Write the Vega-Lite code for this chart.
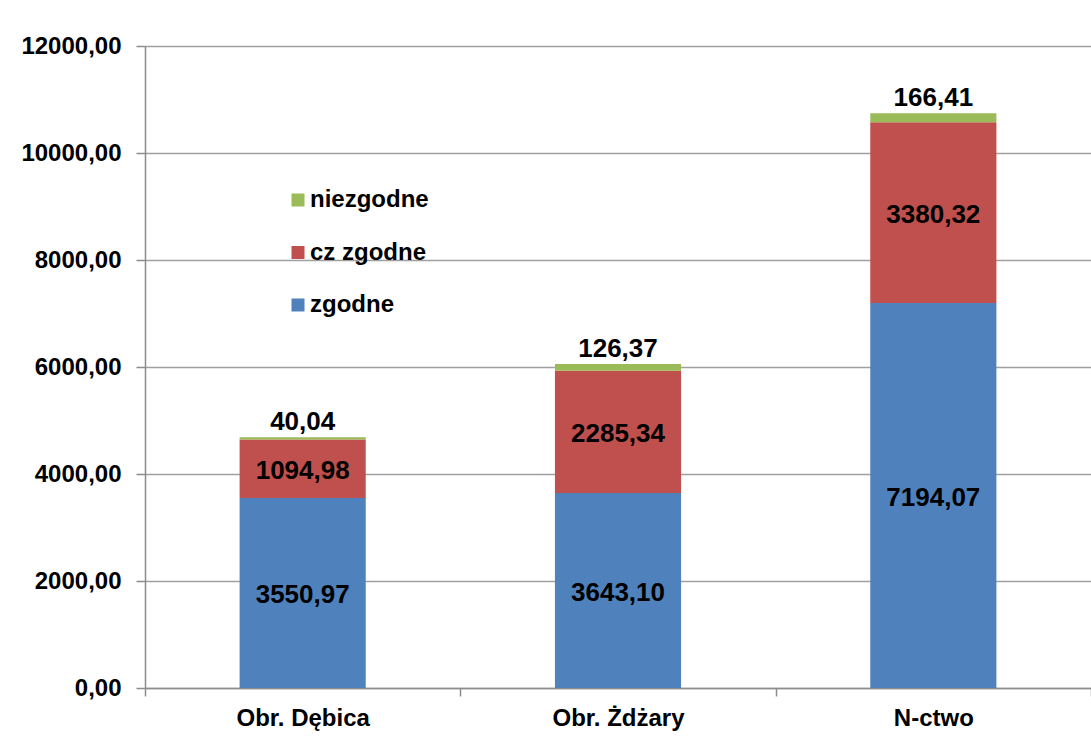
{
  "$schema": "https://vega.github.io/schema/vega-lite/v6.json",
  "autosize": {"type": "none"},
  "padding": {"left": 145, "top": 46, "right": 0, "bottom": 60},
  "width": 946,
  "height": 642,
  "background": "white",
  "data": {
    "values": [
      {"cat": "Obr. Dębica", "series": "zgodne", "rank": 1, "value": 3550.97},
      {"cat": "Obr. Dębica", "series": "cz zgodne", "rank": 2, "value": 1094.98},
      {"cat": "Obr. Dębica", "series": "niezgodne", "rank": 3, "value": 40.04},
      {"cat": "Obr. Żdżary", "series": "zgodne", "rank": 1, "value": 3643.10},
      {"cat": "Obr. Żdżary", "series": "cz zgodne", "rank": 2, "value": 2285.34},
      {"cat": "Obr. Żdżary", "series": "niezgodne", "rank": 3, "value": 126.37},
      {"cat": "N-ctwo", "series": "zgodne", "rank": 1, "value": 7194.07},
      {"cat": "N-ctwo", "series": "cz zgodne", "rank": 2, "value": 3380.32},
      {"cat": "N-ctwo", "series": "niezgodne", "rank": 3, "value": 166.41}
    ]
  },
  "encoding": {
    "x": {
      "field": "cat", "type": "nominal", "sort": null,
      "scale": {"paddingInner": 0, "paddingOuter": 0},
      "axis": {
        "title": null, "labelAngle": 0, "tickBand": "extent",
        "labelFontSize": 24, "labelFontWeight": "bold", "labelFont": "Liberation Sans",
        "labelColor": "black", "labelPadding": 10,
        "tickSize": 8, "tickColor": "#8c8c8c", "tickWidth": 1.5,
        "domainColor": "#8c8c8c", "domainWidth": 1.5
      }
    }
  },
  "layer": [
    {
      "mark": {"type": "bar", "width": {"band": 0.4}},
      "encoding": {
        "y": {
          "field": "value", "type": "quantitative", "stack": "zero",
          "scale": {"domain": [0, 12000], "nice": false},
          "axis": {
            "title": null, "values": [0, 2000, 4000, 6000, 8000, 10000, 12000],
            "format": ".2f", "labelFontSize": 24, "labelFontWeight": "bold",
            "labelFont": "Liberation Sans", "labelColor": "black", "labelPadding": 15,
            "tickSize": 9, "tickColor": "#8c8c8c", "tickWidth": 1.5,
            "domainColor": "#8c8c8c", "domainWidth": 1.5,
            "grid": true, "gridColor": "#a0a0a0", "gridWidth": 1.5
          }
        },
        "color": {
          "field": "series", "type": "nominal",
          "scale": {"domain": ["niezgodne", "cz zgodne", "zgodne"], "range": ["#9BBB59", "#C0504D", "#4F81BD"]},
          "legend": {
            "title": null, "orient": "none", "legendX": 141, "legendY": 142,
            "symbolType": "square", "symbolSize": 169, "symbolStrokeWidth": 0,
            "labelFontSize": 24, "labelFontWeight": "bold", "labelFont": "Liberation Sans",
            "labelColor": "black", "labelOffset": 0, "rowPadding": 28.5, "padding": 0
          }
        },
        "order": {"field": "rank", "type": "quantitative"}
      }
    },
    {
      "mark": {"type": "text", "font": "Liberation Sans", "fontSize": 26, "fontWeight": "bold", "color": "black", "baseline": "middle", "dy": 2},
      "encoding": {
        "y": {"field": "value", "type": "quantitative", "stack": "zero", "bandPosition": 0.5},
        "detail": {"field": "series", "type": "nominal"},
        "order": {"field": "rank", "type": "quantitative"},
        "text": {"field": "value", "type": "quantitative", "format": ".2f"},
        "opacity": {"condition": {"test": "datum.series === 'niezgodne'", "value": 0}, "value": 1}
      }
    },
    {
      "mark": {"type": "text", "font": "Liberation Sans", "fontSize": 26, "fontWeight": "bold", "color": "black", "baseline": "alphabetic", "dy": -7},
      "encoding": {
        "y": {"field": "value", "type": "quantitative", "stack": "zero"},
        "detail": {"field": "series", "type": "nominal"},
        "order": {"field": "rank", "type": "quantitative"},
        "text": {"field": "value", "type": "quantitative", "format": ".2f"},
        "opacity": {"condition": {"test": "datum.series === 'niezgodne'", "value": 1}, "value": 0}
      }
    }
  ],
  "config": {
    "view": {"stroke": null},
    "locale": {"number": {"decimal": ",", "thousands": "", "grouping": [3], "currency": ["", ""]}}
  }
}
